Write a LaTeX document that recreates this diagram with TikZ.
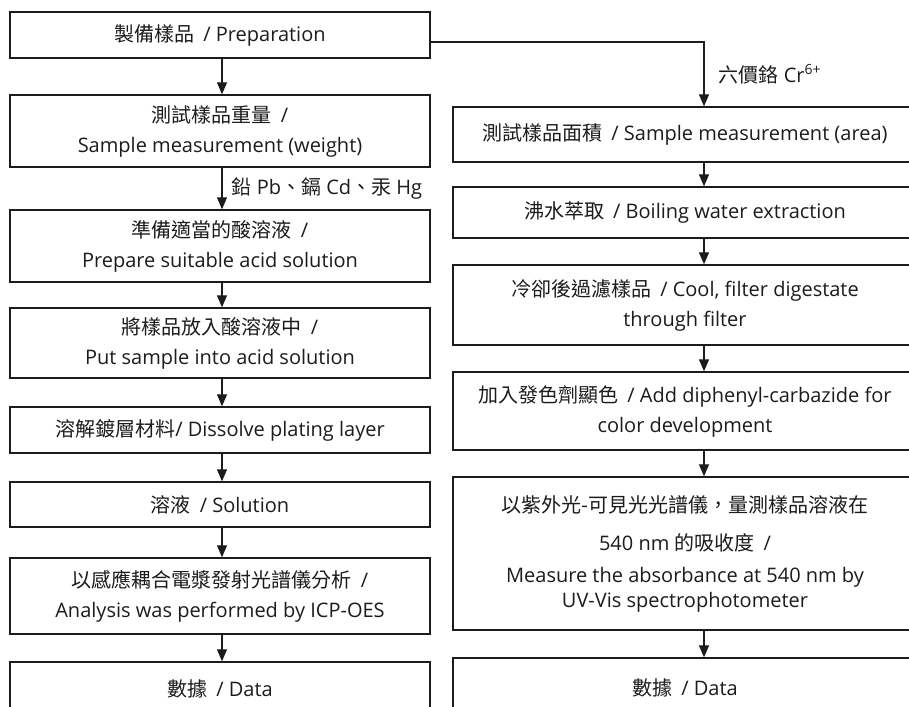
\documentclass[tikz,border=0pt]{standalone}
\usepackage{fontspec}
\setmainfont{Open Sans}
\newfontfamily\cjk{Noto Sans CJK TC}
\usetikzlibrary{arrows.meta}
\definecolor{ink}{RGB}{28,28,28}
\newcommand{\slsep}{\hspace{0.45em}/}
\tikzset{
  box/.style={draw=ink, line width=1.4pt, fill=white, text=ink, align=center,
    inner sep=0pt, font=\fontsize{20}{30}\selectfont},
  lbox/.style={box, minimum width=420pt},
  rbox/.style={box, minimum width=464pt},
  arr/.style={draw=ink, line width=1.3pt, -{Triangle[width=10pt,length=12pt]}},
  lab/.style={text=ink, font=\fontsize{20}{24}\selectfont, inner sep=0pt},
}
\begin{document}
\begin{tikzpicture}[x=1pt,y=-1pt]
\useasboundingbox (0,0) rectangle (909,706);
\fill[white] (0,0) rectangle (909,706);
\clip (0,0) rectangle (909,706);
% left column
\node[lbox, minimum height=46pt] (b1) at (220,35) {{\cjk 製備樣品}\slsep{} Preparation};
\node[lbox, minimum height=72pt] (b2) at (220,131) {{\cjk 測試樣品重量}\slsep\\Sample measurement (weight)};
\node[lbox, minimum height=72pt] (b3) at (220,246) {{\cjk 準備適當的酸溶液}\slsep\\Prepare suitable acid solution};
\node[lbox, minimum height=70pt] (b4) at (220,343) {{\cjk 將樣品放入酸溶液中}\slsep\\Put sample into acid solution};
\node[lbox, minimum height=46pt] (b5) at (220,430) {{\cjk 溶解鍍層材料}/ Dissolve plating layer};
\node[lbox, minimum height=45pt] (b6) at (220,504.5) {{\cjk 溶液}\slsep{} Solution};
\node[lbox, minimum height=76pt] (b7) at (220,596) {{\cjk 以感應耦合電漿發射光譜儀分析}\slsep\\Analysis was performed by ICP-OES};
\node[lbox, minimum height=54pt] (b8) at (220,689) {{\cjk 數據}\slsep{} Data};
% right column
\node[rbox, minimum height=55pt] (r1) at (685,134.5) {{\cjk 測試樣品面積}\slsep{} Sample measurement (area)};
\node[rbox, minimum height=51pt] (r2) at (685,212.5) {{\cjk 沸水萃取}\slsep{} Boiling water extraction};
\node[rbox, minimum height=80pt] (r3) at (685,305) {{\cjk 冷卻後過濾樣品}\slsep{} Cool, filter digestate\\through filter};
\node[rbox, minimum height=78pt] (r4) at (685,411) {{\cjk 加入發色劑顯色}\slsep{} Add diphenyl-carbazide for\\color development};
\node[rbox, minimum height=153pt] (r5) at (685,553.5) {{\cjk 以紫外光-可見光光譜儀，量測樣品溶液在}\\[8pt]540 nm {\cjk 的吸收度}\slsep\\[2pt]Measure the absorbance at 540 nm by\\[-5pt]UV-Vis spectrophotometer};
\node[rbox, minimum height=60pt] (r6) at (685,688) {{\cjk 數據}\slsep{} Data};
% connectors
\coordinate (lx) at (222,0);
\coordinate (split) at (704,42);
\draw[arr] (b1.south -| lx) -- (b2.north -| lx);
\draw[arr] (b2.south -| lx) -- node[lab, right, xshift=9pt] {{\cjk 鉛} Pb{\cjk 、鎘} Cd{\cjk 、汞} Hg} (b3.north -| lx);
\draw[arr] (b3.south -| lx) -- (b4.north -| lx);
\draw[arr] (b4.south -| lx) -- (b5.north -| lx);
\draw[arr] (b5.south -| lx) -- (b6.north -| lx);
\draw[arr] (b6.south -| lx) -- (b7.north -| lx);
\draw[arr] (b7.south -| lx) -- (b8.north -| lx);
\draw[arr] (b1.east |- split) -- (split) -- node[lab, right, xshift=14pt] {{\cjk 六價鉻} Cr\textsuperscript{6+}} (r1.north -| split);
\draw[arr] (r1.south -| split) -- (r2.north -| split);
\draw[arr] (r2.south -| split) -- (r3.north -| split);
\draw[arr] (r3.south -| split) -- (r4.north -| split);
\draw[arr] (r4.south -| split) -- (r5.north -| split);
\draw[arr] (r5.south -| split) -- (r6.north -| split);
\end{tikzpicture}
\end{document}
